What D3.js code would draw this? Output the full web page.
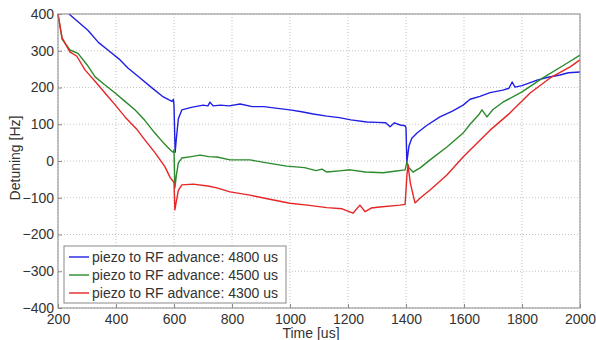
<!DOCTYPE html>
<html>
<head>
<meta charset="utf-8">
<script src="https://cdn.jsdelivr.net/npm/d3@7"></script>
<style>
    body { margin: 0; background: #fff; }
    text { font-family: "Liberation Sans", Arial, sans-serif; }
</style>
</head>
<body>
<div id="chart"></div>
<script>
//data (time in us, detuning in Hz)
var blueTime = [238, 270, 303, 340, 372, 410, 441, 480, 524, 560, 593, 598, 600, 604, 608, 615, 627, 660, 700, 717, 724, 735, 760, 790, 828, 870, 910, 950, 1000, 1040, 1080, 1127, 1170, 1210, 1265, 1300, 1330, 1345, 1360, 1380, 1397, 1400, 1403, 1410, 1420, 1438, 1470, 1517, 1560, 1597, 1621, 1655, 1690, 1734, 1755, 1766, 1776, 1800, 1852, 1890, 1931, 1960, 2000];
var blueValues = [400, 378, 356, 322, 302, 278, 253, 228, 199, 176, 162, 168, 150, 24, 60, 115, 139, 146, 152, 150, 160, 150, 152, 150, 155, 148, 148, 144, 139, 134, 128, 122, 118, 112, 106, 105, 104, 93, 104, 98, 96, 90, -3, 40, 62, 76, 96, 120, 136, 152, 168, 176, 186, 193, 198, 215, 201, 205, 220, 228, 234, 240, 242];

var greenTime = [200, 214, 241, 269, 300, 328, 360, 397, 430, 466, 500, 534, 565, 590, 597, 600, 603, 608, 615, 627, 660, 690, 720, 748, 793, 862, 920, 989, 1050, 1090, 1110, 1127, 1170, 1207, 1260, 1321, 1360, 1397, 1403, 1410, 1424, 1450, 1483, 1541, 1597, 1621, 1650, 1662, 1679, 1700, 1734, 1800, 1872, 1955, 2000];
var greenValues = [400, 332, 302, 293, 262, 229, 208, 185, 163, 139, 110, 76, 48, 28, 24, 30, -73, -40, -5, 8, 12, 16, 12, 11, 3, 3, -5, -14, -18, -26, -22, -30, -27, -24, -30, -32, -28, -24, -3, -18, -30, -18, 3, 38, 76, 100, 125, 139, 120, 140, 160, 188, 226, 266, 288];

var redTime = [200, 214, 241, 265, 293, 330, 362, 400, 431, 470, 500, 535, 569, 586, 597, 600, 603, 608, 615, 627, 666, 717, 748, 793, 862, 930, 1000, 1060, 1127, 1180, 1217, 1241, 1259, 1280, 1310, 1379, 1397, 1403, 1407, 1415, 1431, 1450, 1483, 1541, 1597, 1621, 1690, 1759, 1828, 1897, 1966, 2000];
var redValues = [400, 335, 297, 285, 248, 215, 185, 150, 120, 88, 57, 22, -16, -44, -55, -60, -133, -110, -80, -65, -63, -68, -73, -84, -93, -104, -115, -120, -127, -130, -142, -120, -138, -128, -125, -120, -118, -40, -11, -60, -114, -100, -79, -38, 11, 30, 84, 131, 185, 226, 256, 275];

var seriesNames = ["piezo to RF advance: 4800 us", "piezo to RF advance: 4500 us", "piezo to RF advance: 4300 us"];
var seriesColors = ["#1f1fe6", "#2b8a2b", "#e62626"];

var xTicks = [200, 400, 600, 800, 1000, 1200, 1400, 1600, 1800, 2000];
var yTicks = [-400, -300, -200, -100, 0, 100, 200, 300, 400];

var svgWidth = 596;
var svgHeight = 340;

var margin = {
    top: 14,
    right: 16,
    bottom: 32,
    left: 58
};

var width = svgWidth - margin.left - margin.right;
var height = svgHeight - margin.top - margin.bottom;

//svg wrapper
var svg = d3.select("#chart")
    .append("svg")
    .attr("width", svgWidth)
    .attr("height", svgHeight);

svg.append("rect")
    .attr("width", svgWidth)
    .attr("height", svgHeight)
    .attr("fill", "#fff");

var chartGroup = svg.append("g")
    .attr("transform", `translate(${margin.left}, ${margin.top})`);

//scales
var xScale = d3.scaleLinear()
    .domain([200, 2000])
    .range([0, width]);

var yScale = d3.scaleLinear()
    .domain([-400, 400])
    .range([height, 0]);

//dotted grid
chartGroup.append("g")
    .selectAll("line")
    .data(xTicks)
    .enter()
    .append("line")
    .attr("x1", d => xScale(d))
    .attr("x2", d => xScale(d))
    .attr("y1", 0)
    .attr("y2", height)
    .attr("stroke", "#c4c4c4")
    .attr("stroke-dasharray", "1,2");

chartGroup.append("g")
    .selectAll("line")
    .data(yTicks)
    .enter()
    .append("line")
    .attr("x1", 0)
    .attr("x2", width)
    .attr("y1", d => yScale(d))
    .attr("y2", d => yScale(d))
    .attr("stroke", "#c4c4c4")
    .attr("stroke-dasharray", "1,2");

//axes (no thousands separator)
var bottomAxis = d3.axisBottom(xScale)
    .tickValues(xTicks)
    .tickFormat(d3.format("d"))
    .tickSizeInner(-4)
    .tickSizeOuter(0)
    .tickPadding(6);

var leftAxis = d3.axisLeft(yScale)
    .tickValues(yTicks)
    .tickFormat(d3.format("d"))
    .tickSizeInner(-4)
    .tickSizeOuter(0)
    .tickPadding(4);

var xAxis = chartGroup.append("g")
    .attr("transform", `translate(0, ${height})`)
    .call(bottomAxis);

var yAxis = chartGroup.append("g")
    .call(leftAxis);

[xAxis, yAxis].forEach(function(ax) {
    ax.select(".domain").remove();
    ax.selectAll("line").attr("stroke", "#8a8a8a");
    ax.selectAll("text")
        .attr("fill", "#333")
        .style("font-size", "14px");
});

//lines
var line = d3.line()
    .x(d => xScale(d[0]))
    .y(d => yScale(d[1]));

var series = [
    d3.zip(blueTime, blueValues),
    d3.zip(greenTime, greenValues),
    d3.zip(redTime, redValues)
];

chartGroup.selectAll(".series")
    .data(series)
    .enter()
    .append("path")
    .attr("class", "series")
    .attr("d", line)
    .attr("fill", "none")
    .attr("stroke", (d, i) => seriesColors[i])
    .attr("stroke-width", 1.4)
    .attr("stroke-linejoin", "round");

//box round the plot
chartGroup.append("rect")
    .attr("width", width)
    .attr("height", height)
    .attr("fill", "none")
    .attr("stroke", "#8a8a8a")
    .attr("stroke-width", 1);

//axis labels
svg.append("text")
    .attr("x", 311)
    .attr("y", 338)
    .attr("text-anchor", "middle")
    .attr("fill", "#333")
    .style("font-size", "14px")
    .text("Time [us]");

svg.append("text")
    .attr("transform", "rotate(-90)")
    .attr("x", -158)
    .attr("y", 20)
    .attr("text-anchor", "middle")
    .attr("fill", "#333")
    .style("font-size", "14px")
    .text("Detuning [Hz]");

//legend
var legend = svg.append("g")
    .attr("transform", "translate(64, 246)");

legend.append("rect")
    .attr("width", 222)
    .attr("height", 57)
    .attr("fill", "#fff")
    .attr("stroke", "#8a8a8a");

var legendRows = legend.selectAll(".row")
    .data(seriesNames)
    .enter()
    .append("g")
    .attr("class", "row")
    .attr("transform", (d, i) => `translate(0, ${11 + i * 18})`);

legendRows.append("line")
    .attr("x1", 5)
    .attr("x2", 25)
    .attr("stroke", (d, i) => seriesColors[i])
    .attr("stroke-width", 1.4);

legendRows.append("text")
    .attr("x", 28)
    .attr("dy", "0.35em")
    .attr("fill", "#333")
    .style("font-size", "14px")
    .text(d => d);
</script>
</body>
</html>
